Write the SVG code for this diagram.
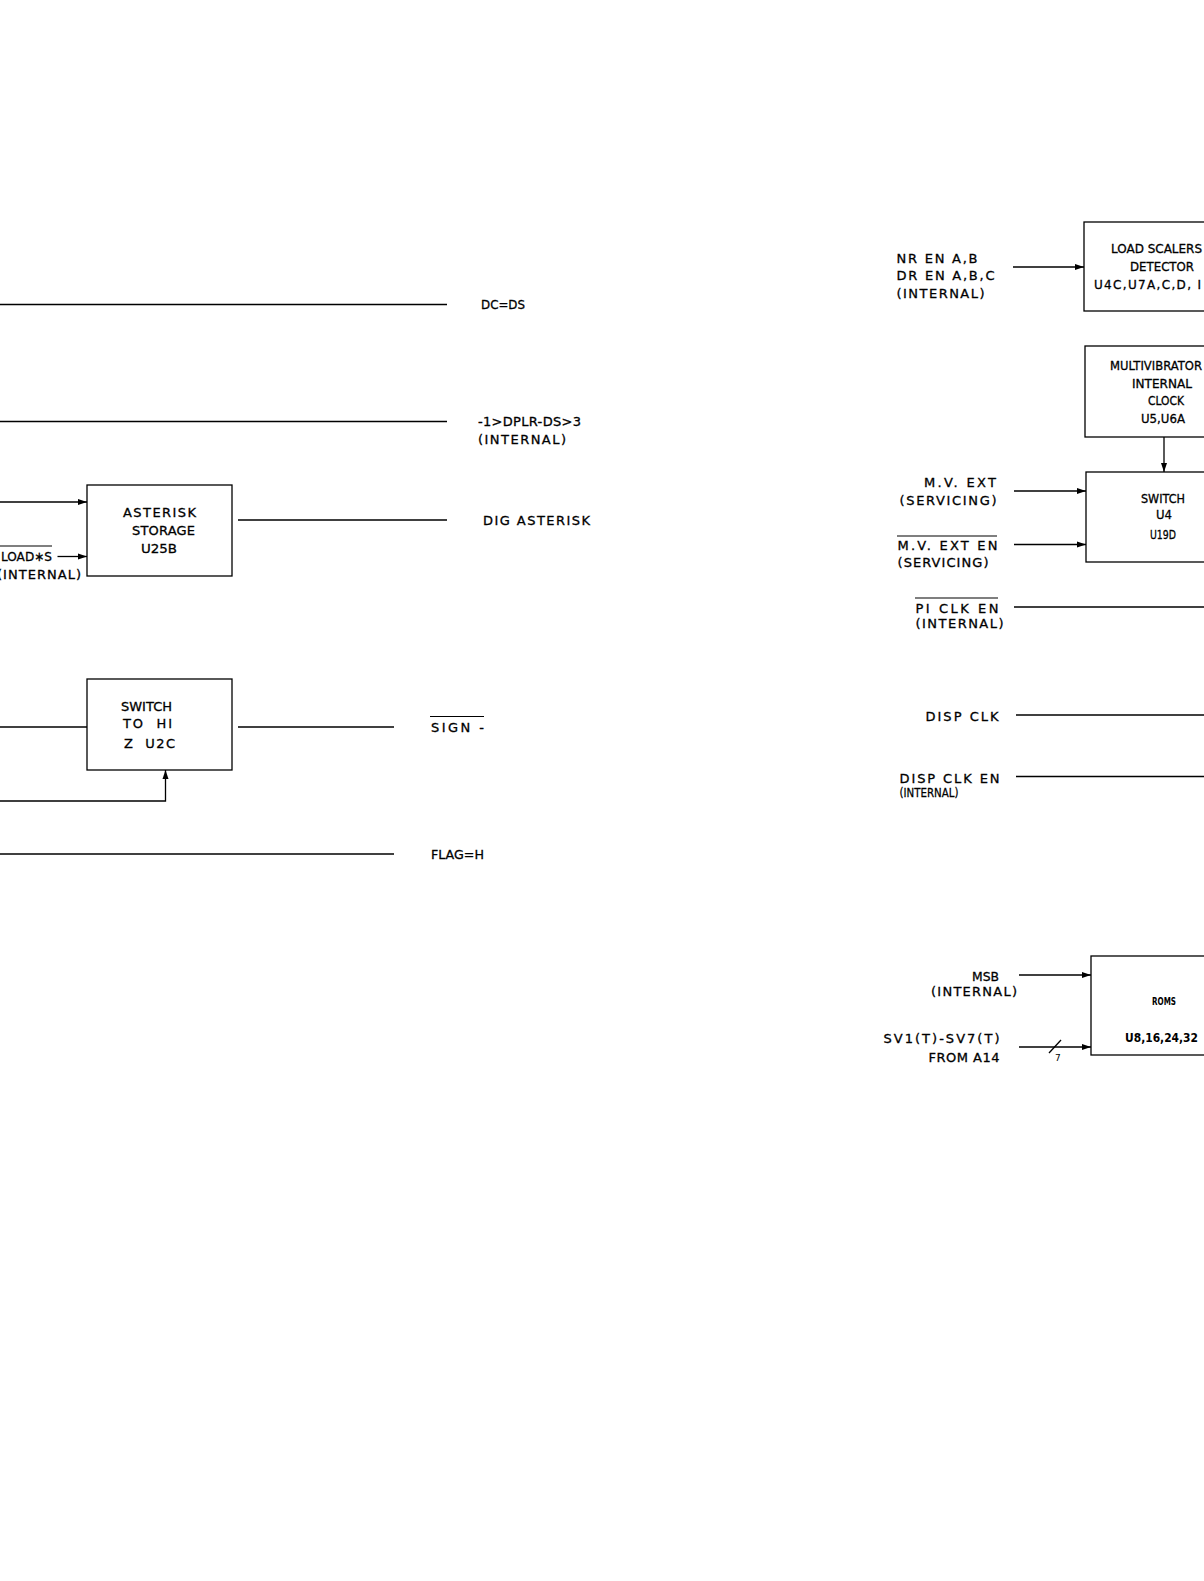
<svg xmlns="http://www.w3.org/2000/svg" width="1204" height="1581" viewBox="0 0 1204 1581">
<defs>
<marker id="ah" markerUnits="userSpaceOnUse" markerWidth="10" markerHeight="7" refX="9" refY="3.5" orient="auto">
<path d="M0,0.5 L9,3.5 L0,6.5 Z" fill="#000"/>
</marker>
</defs>
<style>
text{font-family:"DejaVu Sans","Liberation Sans",sans-serif;font-size:13px;fill:#000;stroke:#000;stroke-width:0.3}
.s{font-size:12px}
.b{fill:#fff;stroke:#000;stroke-width:1.3}
.w{fill:none;stroke:#000;stroke-width:1.3}
.a{fill:none;stroke:#000;stroke-width:1.3;marker-end:url(#ah)}
.ov{stroke:#000;stroke-width:1.2}
.bold{font-weight:bold;font-size:10.5px;stroke-width:0}
</style>
<rect width="1204" height="1581" fill="#fff"/>

<g id="connectors">
<line class="w" x1="0" y1="304.5" x2="447" y2="304.5"/>
<line class="w" x1="0" y1="421.5" x2="447" y2="421.5"/>
<line class="a" x1="0" y1="502" x2="87" y2="502"/>
<line class="a" x1="57.5" y1="556.5" x2="87" y2="556.5"/>
<line class="w" x1="238" y1="520" x2="447" y2="520"/>
<line class="w" x1="0" y1="727" x2="87" y2="727"/>
<line class="w" x1="238" y1="727" x2="394" y2="727"/>
<polyline class="a" points="0,801 165.5,801 165.5,770"/>
<line class="w" x1="0" y1="854" x2="394" y2="854"/>

<line class="a" x1="1013" y1="267" x2="1084" y2="267"/>
<line class="a" x1="1164" y1="437" x2="1164" y2="472"/>
<line class="a" x1="1014" y1="491" x2="1086" y2="491"/>
<line class="a" x1="1014" y1="544.5" x2="1086" y2="544.5"/>
<line class="w" x1="1014" y1="607" x2="1204" y2="607"/>
<line class="w" x1="1016" y1="715" x2="1204" y2="715"/>
<line class="w" x1="1016" y1="776.5" x2="1204" y2="776.5"/>
<line class="a" x1="1019" y1="975" x2="1091" y2="975"/>
<line class="a" x1="1019" y1="1047" x2="1091" y2="1047"/>
<line class="w" x1="1049" y1="1053" x2="1061" y2="1040"/>
<text x="1055" y="1061" style="font-size:9px;stroke-width:0">7</text>
</g>

<g id="label-dc-ds"><text x="481" y="309" textLength="44" lengthAdjust="spacingAndGlyphs">DC=DS</text></g>
<g id="label-dplr">
<text x="478" y="426" textLength="103" lengthAdjust="spacing">-1&gt;DPLR-DS&gt;3</text>
<text x="478" y="444" textLength="88" lengthAdjust="spacing">(INTERNAL)</text>
</g>

<g id="node-asterisk-storage">
<rect class="b" x="87" y="485" width="145" height="91"/>
<text x="123" y="516.5" textLength="73" lengthAdjust="spacing">ASTERISK</text>
<text x="132" y="535" textLength="63" lengthAdjust="spacing">STORAGE</text>
<text x="141" y="553" textLength="36" lengthAdjust="spacingAndGlyphs">U25B</text>
</g>
<g id="label-load-s">
<text x="1" y="561" textLength="51" lengthAdjust="spacingAndGlyphs">LOAD∗S</text>
<line class="ov" x1="0" y1="546" x2="52" y2="546"/>
<text x="-3" y="579" textLength="84" lengthAdjust="spacing">(INTERNAL)</text>
</g>
<g id="label-dig-asterisk"><text x="483" y="525" textLength="107" lengthAdjust="spacing">DIG ASTERISK</text></g>

<g id="node-switch-hiz">
<rect class="b" x="87" y="679" width="145" height="91"/>
<text x="121" y="710.5" textLength="51" lengthAdjust="spacingAndGlyphs">SWITCH</text>
<text x="123" y="727.5" textLength="49" lengthAdjust="spacing" xml:space="preserve">TO  HI</text>
<text x="124" y="747.5" textLength="51" lengthAdjust="spacing" xml:space="preserve">Z  U2C</text>
</g>
<g id="label-sign">
<text x="431" y="732" textLength="53" lengthAdjust="spacing">SIGN -</text>
<line class="ov" x1="430" y1="716.5" x2="484" y2="716.5"/>
</g>
<g id="label-flag"><text x="431" y="858.5" textLength="53" lengthAdjust="spacingAndGlyphs">FLAG=H</text></g>

<g id="label-nr-dr-en">
<text x="896.5" y="262.5" textLength="81" lengthAdjust="spacing">NR EN A,B</text>
<text x="896.5" y="280" textLength="98" lengthAdjust="spacing">DR EN A,B,C</text>
<text x="896.5" y="298" textLength="88" lengthAdjust="spacing">(INTERNAL)</text>
</g>
<g id="node-load-scalers">
<rect class="b" x="1084" y="222" width="140" height="89"/>
<text class="s" x="1111" y="252.5" textLength="91" lengthAdjust="spacingAndGlyphs">LOAD SCALERS</text>
<text class="s" x="1130" y="270.5" textLength="64" lengthAdjust="spacingAndGlyphs">DETECTOR</text>
<text class="s" x="1094" y="288.5" textLength="107" lengthAdjust="spacing">U4C,U7A,C,D, I</text>
</g>

<g id="node-multivibrator">
<rect class="b" x="1085" y="346" width="140" height="91"/>
<text class="s" x="1110" y="369.5" textLength="92" lengthAdjust="spacingAndGlyphs">MULTIVIBRATOR</text>
<text class="s" x="1132" y="387.5" textLength="60" lengthAdjust="spacingAndGlyphs">INTERNAL</text>
<text class="s" x="1148" y="404.5" textLength="36" lengthAdjust="spacingAndGlyphs">CLOCK</text>
<text class="s" x="1141" y="423" textLength="44" lengthAdjust="spacingAndGlyphs">U5,U6A</text>
</g>

<g id="node-switch-u4">
<rect class="b" x="1086" y="472" width="140" height="90"/>
<text class="s" x="1141" y="502.5" textLength="44" lengthAdjust="spacingAndGlyphs">SWITCH</text>
<text class="s" x="1156" y="518.5" textLength="16" lengthAdjust="spacingAndGlyphs">U4</text>
<text class="s" x="1150" y="539" textLength="26" lengthAdjust="spacingAndGlyphs">U19D</text>
</g>
<g id="label-mv-ext">
<text x="924" y="486.5" textLength="72" lengthAdjust="spacing">M.V. EXT</text>
<text x="899.5" y="504.5" textLength="97" lengthAdjust="spacing">(SERVICING)</text>
</g>
<g id="label-mv-ext-en">
<text x="897.5" y="550" textLength="100" lengthAdjust="spacing">M.V. EXT EN</text>
<line class="ov" x1="897" y1="536" x2="997" y2="536"/>
<text x="897.5" y="567" textLength="91" lengthAdjust="spacing">(SERVICING)</text>
</g>
<g id="label-pi-clk-en">
<text x="915.5" y="612.5" textLength="83" lengthAdjust="spacing">PI CLK EN</text>
<line class="ov" x1="915" y1="598" x2="998" y2="598"/>
<text x="915.5" y="627.5" textLength="88" lengthAdjust="spacing">(INTERNAL)</text>
</g>
<g id="label-disp-clk"><text x="925.5" y="720.5" textLength="73" lengthAdjust="spacing">DISP CLK</text></g>
<g id="label-disp-clk-en">
<text x="899.5" y="783" textLength="100" lengthAdjust="spacing">DISP CLK EN</text>
<text x="899.5" y="797" textLength="59" lengthAdjust="spacingAndGlyphs">(INTERNAL)</text>
</g>

<g id="node-roms">
<rect class="b" x="1091" y="956" width="140" height="99"/>
<text class="bold" x="1152" y="1005" textLength="24" lengthAdjust="spacingAndGlyphs">ROMS</text>
<text class="bold" x="1125" y="1041.5" textLength="73" lengthAdjust="spacingAndGlyphs" style="font-size:12px">U8,16,24,32</text>
</g>
<g id="label-msb">
<text x="972" y="980.5" textLength="27" lengthAdjust="spacingAndGlyphs">MSB</text>
<text x="931" y="995.5" textLength="86" lengthAdjust="spacing">(INTERNAL)</text>
</g>
<g id="label-sv">
<text x="883.5" y="1043" textLength="116" lengthAdjust="spacing">SV1(T)-SV7(T)</text>
<text x="928.5" y="1061.5" textLength="71" lengthAdjust="spacing">FROM A14</text>
</g>
</svg>
